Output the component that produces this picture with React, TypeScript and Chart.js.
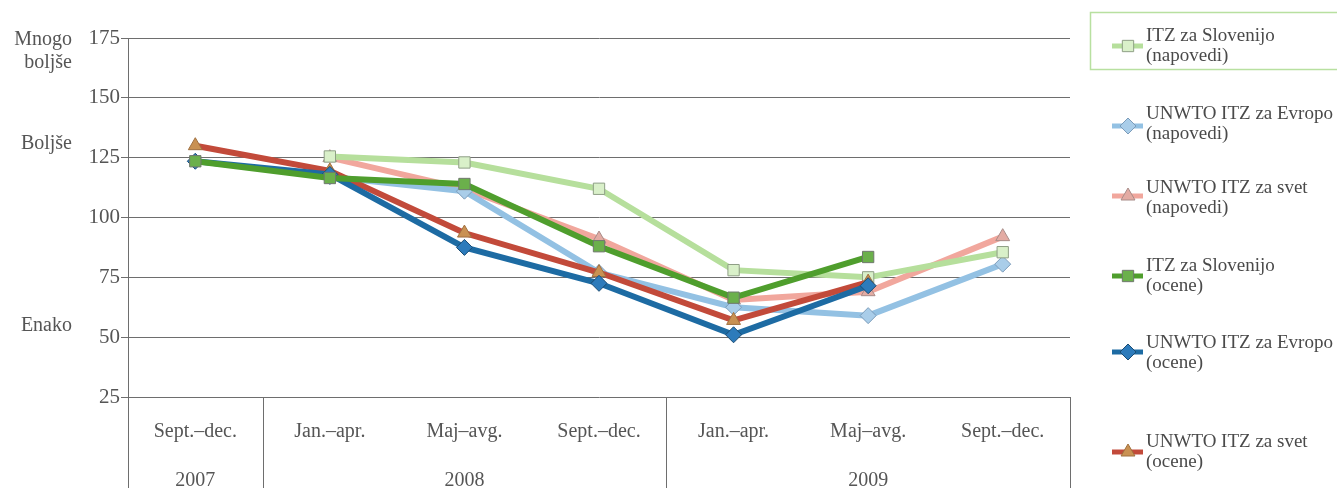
import React, { useEffect, useRef } from 'react';
import { Chart, registerables } from 'chart.js';

Chart.register(...registerables);

const FONT = "'Liberation Serif', 'DejaVu Serif', serif";

// Four-month periods on the horizontal axis
const periods = ['Sept.–dec.', 'Jan.–apr.', 'Maj–avg.', 'Sept.–dec.', 'Jan.–apr.', 'Maj–avg.', 'Sept.–dec.'];
const years = ['2007', '2008', '2009'];
const yearFirst = [0, 1, 4];
const yearLast = [0, 3, 6];

// Value axis
const yMin = 25;
const yMax = 175;
const yStep = 25;

// Forecasts (napovedi)
const sloForecast = [null, 125.5, 123, 112, 78, 75, 85.5];
const eurForecast = [null, 117, 111, 77, 62.5, 59, 80.5];
const worldForecast = [null, 125, 112, 91, 65.5, 69, 92];

// Estimates (ocene)
const sloEstimate = [123.5, 116.5, 114, 88, 66.5, 83.5, null];
const eurEstimate = [123.5, 118, 87.5, 72.5, 51, 71.5, null];
const worldEstimate = [130, 119.5, 93.5, 77, 57, 73, null];

const seriesNames = [
  ['ITZ za Slovenijo', '(napovedi)'],
  ['UNWTO ITZ za Evropo', '(napovedi)'],
  ['UNWTO ITZ za svet', '(napovedi)'],
  ['ITZ za Slovenijo', '(ocene)'],
  ['UNWTO ITZ za Evropo', '(ocene)'],
  ['UNWTO ITZ za svet', '(ocene)'],
];

type Style = { line: string; fill: string; edge: string; shape: 'rect' | 'rectRot' | 'triangle' };

const styles: Style[] = [
  { line: '#b6df9c', fill: '#d9f0c9', edge: '#8f9f86', shape: 'rect' },
  { line: '#93c1e3', fill: '#a9cde9', edge: '#7c9cba', shape: 'rectRot' },
  { line: '#f1a79d', fill: '#e3aba3', edge: '#a88c88', shape: 'triangle' },
  { line: '#4f9e2d', fill: '#6bb04b', edge: '#6f786d', shape: 'rect' },
  { line: '#1d6ba3', fill: '#2d7bbb', edge: '#1b4c73', shape: 'rectRot' },
  { line: '#c24a3a', fill: '#c99152', edge: '#a0703f', shape: 'triangle' },
];

const seriesData = [sloForecast, eurForecast, worldForecast, sloEstimate, eurEstimate, worldEstimate];

function drawMarker(ctx: CanvasRenderingContext2D, shape: string, x: number, y: number, r: number) {
  ctx.beginPath();
  if (shape === 'rect') {
    const s = r * Math.SQRT1_2;
    ctx.rect(x - s, y - s, 2 * s, 2 * s);
  } else if (shape === 'rectRot') {
    ctx.moveTo(x, y - r);
    ctx.lineTo(x + r, y);
    ctx.lineTo(x, y + r);
    ctx.lineTo(x - r, y);
    ctx.closePath();
  } else {
    const h = r * 1.5;
    ctx.moveTo(x, y - r);
    ctx.lineTo(x + h * 0.58, y + r * 0.5);
    ctx.lineTo(x - h * 0.58, y + r * 0.5);
    ctx.closePath();
  }
  ctx.fill();
  ctx.stroke();
}

const decor = {
  id: 'decor',
  afterDraw(chart: any) {
    const { ctx, chartArea: a, scales } = chart;
    const xs = scales.x;
    const ys = scales.y;
    const bottom = chart.height;
    ctx.save();

    // period boxes below the plot
    ctx.strokeStyle = '#6e6e6e';
    ctx.lineWidth = 1;
    const step = xs.getPixelForValue(1) - xs.getPixelForValue(0);
    const edges = [a.left, ...yearLast.map((i) => xs.getPixelForValue(i) + step / 2)];
    edges.forEach((px) => {
      const p = Math.round(px) + 0.5;
      ctx.beginPath();
      ctx.moveTo(p, a.bottom);
      ctx.lineTo(p, bottom);
      ctx.stroke();
    });

    ctx.fillStyle = '#555';
    ctx.font = `20px ${FONT}`;
    ctx.textAlign = 'center';
    ctx.textBaseline = 'alphabetic';
    periods.forEach((p, i) => ctx.fillText(p, xs.getPixelForValue(i), a.bottom + 40));
    years.forEach((yr, k) => {
      const cx = (xs.getPixelForValue(yearFirst[k]) + xs.getPixelForValue(yearLast[k])) / 2;
      ctx.fillText(yr, cx, a.bottom + 89);
    });

    // verbal scale at the left
    ctx.textAlign = 'right';
    ctx.fillText('Mnogo', 72, ys.getPixelForValue(175) + 7);
    ctx.fillText('boljše', 72, ys.getPixelForValue(175) + 30);
    ctx.fillText('Boljše', 72, ys.getPixelForValue(125) - 9);
    ctx.fillText('Enako', 72, ys.getPixelForValue(50) - 6);

    // legend
    const baselines = [41, 119, 193, 271, 348, 447];
    const markerShift = [5, 7, 3, 5, 4, 5];
    ctx.strokeStyle = '#b8e0a0';
    ctx.lineWidth = 1.5;
    ctx.strokeRect(1090.5, 12.5, 300, 57);
    ctx.textAlign = 'left';
    ctx.font = `19px ${FONT}`;
    seriesNames.forEach((name, i) => {
      const st = styles[i];
      const by = baselines[i];
      const my = by + markerShift[i];
      ctx.strokeStyle = st.line;
      ctx.lineWidth = 5;
      ctx.beginPath();
      ctx.moveTo(1112, my);
      ctx.lineTo(1143, my);
      ctx.stroke();
      ctx.fillStyle = st.fill;
      ctx.strokeStyle = st.edge;
      ctx.lineWidth = 1;
      drawMarker(ctx, st.shape, 1128, my, 8);
      ctx.fillStyle = '#4a4a4a';
      ctx.fillText(name[0], 1146, by);
      ctx.fillText(name[1], 1146, by + 20);
    });
    ctx.restore();
  },
};

export default function App() {
  const ref = useRef<HTMLCanvasElement>(null);

  useEffect(() => {
    if (!ref.current) return;
    const datasets = seriesData.map((d, i) => {
      const st = styles[i];
      return {
        label: seriesNames[i].join(' '),
        data: d,
        borderColor: st.line,
        backgroundColor: st.fill,
        borderWidth: 6,
        pointStyle: st.shape,
        pointRadius: 8,
        pointBackgroundColor: st.fill,
        pointBorderColor: st.edge,
        pointBorderWidth: 1,
        tension: 0,
        spanGaps: false,
        order: i < 3 ? 1 : 0,
      };
    });

    const chart = new Chart(ref.current, {
      type: 'line',
      data: { labels: periods, datasets },
      plugins: [decor],
      options: {
        responsive: false,
        animation: false,
        devicePixelRatio: 1,
        layout: { padding: { left: 0, right: 267, top: 38, bottom: 91 } },
        plugins: { legend: { display: false }, tooltip: { enabled: false } },
        scales: {
          x: { type: 'category', offset: true, display: false },
          y: {
            min: yMin,
            max: yMax,
            ticks: {
              stepSize: yStep,
              color: '#555',
              padding: 1,
              font: { family: FONT, size: 21 },
            },
            grid: { color: '#6e6e6e', lineWidth: 1, tickLength: 7, drawTicks: true },
            border: { display: true, color: '#6e6e6e', width: 1 },
            afterFit: (s: any) => {
              s.width = 128;
            },
          },
        },
      },
    } as any);
    return () => chart.destroy();
  }, []);

  return (
    <div style={{ position: 'absolute', left: 0, top: 0, width: 1337, height: 488, background: '#fff' }}>
      <canvas ref={ref} width={1337} height={488} style={{ display: 'block' }} />
    </div>
  );
}
